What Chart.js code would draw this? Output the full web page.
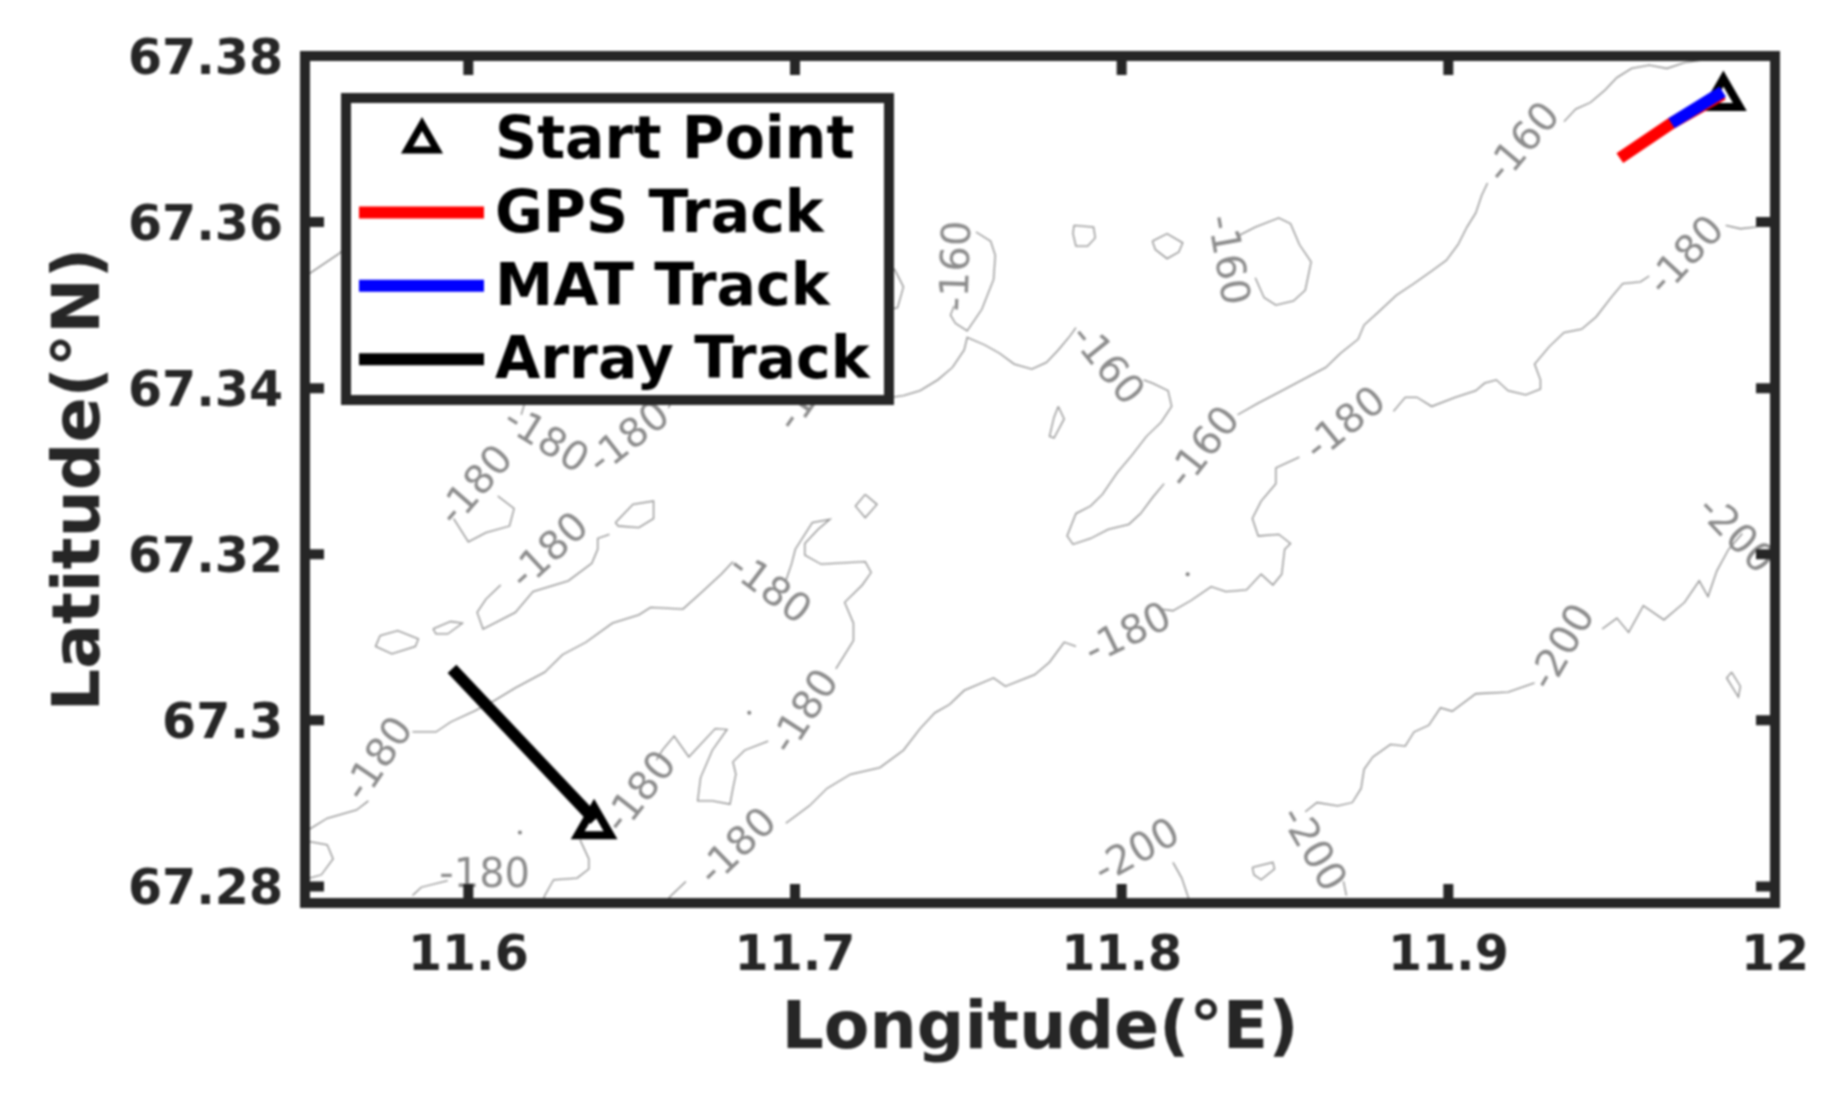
<!DOCTYPE html>
<html>
<head>
<meta charset="utf-8">
<title>Tracks</title>
<script src="https://cdn.jsdelivr.net/npm/chart.js@4"></script>
<style>
    html, body { margin: 0; padding: 0; background: #fff; }
    canvas { display: block; filter: blur(1px); }
</style>
</head>
<body>
<canvas id="myChart" width="1839" height="1102"></canvas>
<script>
// Ticks
const xTicks = [11.6, 11.7, 11.8, 11.9, 12];
const yTicks = [67.28, 67.3, 67.32, 67.34, 67.36, 67.38];

// Tracks, [lon, lat]
const gpsTrack = [[11.9525, 67.3677], [11.9683, 67.3719], [11.9840, 67.3754]];
const matTrack = [[11.9683, 67.3719], [11.9840, 67.3757]];
const arrayTrack = [[11.5950, 67.3062], [11.6387, 67.2880]];
const startPoints = [[11.9842, 67.3750], [11.6385, 67.2873]];

// Contours. Gaps are where the labels sit
const c160TopRight = [[11.9795, 67.3796], [11.9723, 67.3792], [11.9669, 67.3785], [11.9615, 67.3789], [11.9561, 67.3785], [11.9516, 67.3774], [11.9480, 67.3759], [11.9435, 67.3744], [11.9390, 67.3736], [11.9354, 67.3721]];
const c160Main = [[11.9120, 67.3647], [11.9102, 67.3632], [11.9084, 67.3611], [11.9057, 67.3594], [11.9030, 67.3573], [11.8994, 67.3554], [11.8949, 67.3541], [11.8895, 67.3526], [11.8841, 67.3512], [11.8787, 67.3492], [11.8742, 67.3476], [11.8724, 67.3459], [11.8670, 67.3442], [11.8625, 67.3425], [11.8553, 67.3410], [11.8481, 67.3395], [11.8418, 67.3382], [11.8355, 67.3368]];
const c160Tongue = [[11.8130, 67.3285], [11.8094, 67.3268], [11.8058, 67.3249], [11.8022, 67.3236], [11.7959, 67.3230], [11.7905, 67.3219], [11.7851, 67.3212], [11.7833, 67.3222], [11.7860, 67.3249], [11.7905, 67.3258], [11.7941, 67.3272], [11.7986, 67.3298], [11.8031, 67.3319], [11.8076, 67.3342], [11.8121, 67.3359], [11.8153, 67.3378], [11.8142, 67.3397], [11.8094, 67.3406], [11.8067, 67.3410]];
const c160Bend = [[11.7554, 67.3588], [11.7599, 67.3577], [11.7613, 67.3560], [11.7608, 67.3531], [11.7572, 67.3495], [11.7527, 67.3469], [11.7491, 67.3478], [11.7476, 67.3488], [11.7487, 67.3499]];
const c160West = [[11.7860, 67.3473], [11.7842, 67.3463], [11.7806, 67.3446], [11.7770, 67.3431], [11.7725, 67.3423], [11.7671, 67.3429], [11.7626, 67.3442], [11.7581, 67.3452], [11.7527, 67.3461], [11.7518, 67.3446], [11.7482, 67.3425], [11.7437, 67.3410], [11.7383, 67.3397], [11.7332, 67.3391], [11.7260, 67.3387]];
const c160Arc = [[11.7224, 67.3552], [11.7305, 67.3543], [11.7332, 67.3522], [11.7314, 67.3497], [11.7224, 67.3488]];
const c160Corner = [[11.5510, 67.3537], [11.5604, 67.3562], [11.5700, 67.3600]];
const c160Loop = [[11.8355, 67.3583], [11.8409, 67.3594], [11.8481, 67.3605], [11.8517, 67.3598], [11.8544, 67.3573], [11.8580, 67.3552], [11.8562, 67.3518], [11.8526, 67.3505], [11.8472, 67.3500], [11.8436, 67.3509], [11.8409, 67.3533]];
const islandA = [[11.7854, 67.3596], [11.7914, 67.3594], [11.7919, 67.3581], [11.7896, 67.3571], [11.7860, 67.3571], [11.7851, 67.3586], [11.7854, 67.3596]];
const islandB = [[11.8094, 67.3577], [11.8139, 67.3586], [11.8187, 67.3575], [11.8175, 67.3564], [11.8139, 67.3556], [11.8103, 67.3567], [11.8094, 67.3577]];
const islandC = [[11.7806, 67.3378], [11.7824, 67.3363], [11.7793, 67.3340], [11.7779, 67.3342], [11.7793, 67.3365], [11.7806, 67.3378]];

const c180RightEdge = [[11.9984, 67.3600], [11.9939, 67.3594], [11.9894, 67.3592], [11.9849, 67.3596]];
const c180Upper = [[11.9615, 67.3535], [11.9588, 67.3528], [11.9534, 67.3526], [11.9498, 67.3509], [11.9453, 67.3486], [11.9408, 67.3471], [11.9354, 67.3467], [11.9309, 67.3450], [11.9264, 67.3429], [11.9282, 67.3410], [11.9282, 67.3399], [11.9237, 67.3392], [11.9183, 67.3397], [11.9147, 67.3410], [11.9111, 67.3406], [11.9084, 67.3397], [11.9021, 67.3389], [11.8949, 67.3378], [11.8904, 67.3389], [11.8868, 67.3389], [11.8832, 67.3372]];
const c180Mid = [[11.8544, 67.3317], [11.8472, 67.3304], [11.8472, 67.3285], [11.8427, 67.3264], [11.8400, 67.3243], [11.8418, 67.3222], [11.8481, 67.3224], [11.8517, 67.3213], [11.8499, 67.3206], [11.8490, 67.3176], [11.8463, 67.3163], [11.8427, 67.3176], [11.8382, 67.3157], [11.8319, 67.3155], [11.8274, 67.3161], [11.8211, 67.3144], [11.8157, 67.3132], [11.8121, 67.3134]];
const c180Lower = [[11.7860, 67.3089], [11.7824, 67.3094], [11.7779, 67.3070], [11.7734, 67.3055], [11.7644, 67.3041], [11.7608, 67.3051], [11.7518, 67.3036], [11.7473, 67.3019], [11.7428, 67.3009], [11.7383, 67.2990], [11.7332, 67.2964], [11.7260, 67.2943], [11.7170, 67.2935], [11.7098, 67.2918], [11.7044, 67.2897], [11.6972, 67.2876]];
const c180Foot = [[11.6666, 67.2806], [11.6621, 67.2789], [11.6600, 67.2780]];
const c180WestLow = [[11.5514, 67.2869], [11.5568, 67.2882], [11.5658, 67.2892], [11.5694, 67.2903]];
const c180West = [[11.5829, 67.2986], [11.5901, 67.2986], [11.5946, 67.2998], [11.6018, 67.3011], [11.6081, 67.3024], [11.6144, 67.3039], [11.6234, 67.3058], [11.6288, 67.3079], [11.6360, 67.3094], [11.6441, 67.3117], [11.6522, 67.3127], [11.6558, 67.3136], [11.6657, 67.3134], [11.6711, 67.3153], [11.6774, 67.3176], [11.6810, 67.3191]];
const c180Neck = [[11.6972, 67.3168], [11.6990, 67.3189], [11.7001, 67.3206], [11.7053, 67.3238], [11.7107, 67.3242], [11.7071, 67.3230], [11.7030, 67.3213], [11.7030, 67.3199], [11.7080, 67.3188], [11.7215, 67.3191], [11.7233, 67.3178], [11.7206, 67.3163], [11.7152, 67.3142], [11.7179, 67.3117], [11.7179, 67.3096], [11.7125, 67.3062]];
const c180Finger = [[11.6918, 67.2975], [11.6846, 67.2964], [11.6810, 67.2950], [11.6819, 67.2935], [11.6810, 67.2918], [11.6801, 67.2899], [11.6747, 67.2903], [11.6702, 67.2903], [11.6711, 67.2931], [11.6747, 67.2964], [11.6792, 67.2989], [11.6756, 67.2990], [11.6675, 67.2956], [11.6630, 67.2981], [11.6594, 67.2964], [11.6576, 67.2952]];
const c180South = [[11.6342, 67.2856], [11.6369, 67.2833], [11.6369, 67.2821], [11.6333, 67.2810], [11.6261, 67.2808], [11.6234, 67.2789], [11.6225, 67.2780]];
const c180CornerPatch = [[11.5514, 67.2854], [11.5568, 67.2850], [11.5586, 67.2833], [11.5550, 67.2814], [11.5514, 67.2810]];
const c180Bottom = [[11.5829, 67.2789], [11.5856, 67.2799], [11.5937, 67.2807]];
const pondA = [[11.5730, 67.3102], [11.5784, 67.3108], [11.5847, 67.3098], [11.5838, 67.3089], [11.5766, 67.3080], [11.5716, 67.3089], [11.5730, 67.3102]];
const pondB = [[11.5892, 67.3110], [11.5946, 67.3119], [11.5982, 67.3117], [11.5937, 67.3104], [11.5901, 67.3104], [11.5892, 67.3110]];
const c180Spit = [[11.6099, 67.3163], [11.6054, 67.3146], [11.6027, 67.3130], [11.6045, 67.3110], [11.6144, 67.3130], [11.6198, 67.3155], [11.6306, 67.3168], [11.6378, 67.3189], [11.6396, 67.3206], [11.6396, 67.3219], [11.6432, 67.3224]];
const pondC = [[11.6450, 67.3238], [11.6504, 67.3260], [11.6567, 67.3264], [11.6567, 67.3243], [11.6522, 67.3232], [11.6459, 67.3234], [11.6450, 67.3238]];
const pondD = [[11.7215, 67.3272], [11.7251, 67.3260], [11.7215, 67.3244], [11.7185, 67.3258], [11.7215, 67.3272]];
const c180Hook = [[11.5955, 67.3243], [11.6000, 67.3215], [11.6054, 67.3226], [11.6126, 67.3234], [11.6140, 67.3255], [11.6090, 67.3270]];
const c180StubA = [[11.6171, 67.3380], [11.6162, 67.3368]];
const c180StubB = [[11.6612, 67.3376], [11.6640, 67.3395]];

const c200Main = [[11.8562, 67.2890], [11.8598, 67.2901], [11.8661, 67.2897], [11.8706, 67.2901], [11.8733, 67.2918], [11.8742, 67.2941], [11.8769, 67.2956], [11.8823, 67.2971], [11.8868, 67.2969], [11.8895, 67.2986], [11.8940, 67.2994], [11.8976, 67.3015], [11.9012, 67.3011], [11.9084, 67.3032], [11.9183, 67.3034], [11.9264, 67.3045]];
const c200East = [[11.9471, 67.3110], [11.9516, 67.3123], [11.9552, 67.3106], [11.9597, 67.3138], [11.9660, 67.3121], [11.9723, 67.3142], [11.9768, 67.3168], [11.9795, 67.3149], [11.9822, 67.3180], [11.9858, 67.3206], [11.9900, 67.3225]];
const c200Sliver = [[11.9867, 67.3058], [11.9894, 67.3041], [11.9888, 67.3028], [11.9852, 67.3051], [11.9867, 67.3058]];
const c200Pond = [[11.8400, 67.2823], [11.8463, 67.2829], [11.8468, 67.2821], [11.8427, 67.2808], [11.8405, 67.2814], [11.8400, 67.2823]];
const c200BottomA = [[11.8157, 67.2829], [11.8184, 67.2810], [11.8202, 67.2789], [11.8210, 67.2780]];
const c200BottomB = [[11.8679, 67.2806], [11.8688, 67.2789]];
const soundings = [[11.8202, 67.3176], [11.6860, 67.3009], [11.6158, 67.2865]];

const contourLines = [c160TopRight, c160Main, c160Tongue, c160Bend, c160West, c160Arc, c160Corner, c160Loop, islandA, islandB, islandC,
    c180RightEdge, c180Upper, c180Mid, c180Lower, c180Foot, c180WestLow, c180West, c180Neck, c180Finger, c180South, c180CornerPatch, c180Bottom,
    pondA, pondB, c180Spit, pondC, pondD, c180Hook, c180StubA, c180StubB,
    c200Main, c200East, c200Sliver, c200Pond, c200BottomA, c200BottomB];

// Contour labels
const labelTexts = ['-160', '-180', '-160', '-180', '-160', '-160', '-160', '-200', '-200', '-200', '-200', '-180', '-180', '-180', '-180', '-180', '-180', '-180', '-180', '-180', '-180', '-180', '-180'];
const labelLons = [11.9233, 11.9732, 11.8256, 11.8688, 11.7500, 11.7950, 11.8319, 11.9876, 11.9354, 11.8049, 11.8580, 11.8022, 11.7035, 11.6828, 11.6531, 11.6918, 11.5730, 11.6050, 11.6252, 11.6027, 11.6234, 11.6495, 11.7053];
const labelLats = [67.3694, 67.3558, 67.3327, 67.3355, 67.3547, 67.3427, 67.3554, 67.3222, 67.3087, 67.2840, 67.2844, 67.3102, 67.3009, 67.2846, 67.2912, 67.3157, 67.2952, 67.2812, 67.3202, 67.3281, 67.3336, 67.3338, 67.3397];
const labelAngles = [-50, -47, -52, -39, -88, 51, 80, 46, -60, -29, 60, -26, -57, -44, -52, 37, -56, 0, -43, -49, 32, -38, -55];

const textColor = '#262626';
const contourColor = '#8c8c8c';

function toPoints(list) {
    return list.map((p) => ({ x: p[0], y: p[1] }));
}

function trackDataset(label, list, color, order) {
    return {
        label: label,
        data: toPoints(list),
        showLine: true,
        borderColor: color,
        borderWidth: 12,
        borderCapStyle: 'butt',
        pointRadius: 0,
        order: order
    };
}

let datasets = [
    {
        label: 'Start Point',
        data: toPoints(startPoints),
        showLine: false,
        pointStyle: 'triangle',
        pointRadius: 19,
        pointBorderWidth: 8,
        pointBorderColor: '#000',
        pointBackgroundColor: 'transparent',
        order: 4
    },
    trackDataset('GPS Track', gpsTrack, '#ff0000', 2),
    trackDataset('MAT Track', matTrack, '#0000ff', 1),
    trackDataset('Array Track', arrayTrack, '#000000', 3)
];

contourLines.forEach((line) => {
    datasets.push({
        data: toPoints(line),
        showLine: true,
        borderColor: contourColor,
        borderWidth: 1.3,
        pointRadius: 0,
        order: 10
    });
});
datasets.push({
    data: toPoints(soundings),
    showLine: false,
    pointRadius: 2,
    pointBorderWidth: 0,
    pointBackgroundColor: '#808080',
    order: 10
});

// Rotated labels on the contours
const contourLabelPlugin = {
    id: 'contourLabels',
    beforeDatasetsDraw(chart) {
        const { ctx, chartArea, scales } = chart;
        ctx.save();
        ctx.beginPath();
        ctx.rect(chartArea.left, chartArea.top, chartArea.width, chartArea.height);
        ctx.clip();
        ctx.font = '40px "DejaVu Sans"';
        ctx.fillStyle = '#8c8c8c';
        ctx.textAlign = 'center';
        ctx.textBaseline = 'middle';
        labelTexts.forEach((text, i) => {
            ctx.save();
            ctx.translate(scales.x.getPixelForValue(labelLons[i]), scales.y.getPixelForValue(labelLats[i]));
            ctx.rotate(labelAngles[i] * Math.PI / 180);
            ctx.fillText(text, 0, 0);
            ctx.restore();
        });
        ctx.restore();
    }
};

// Box around the plot with the ticks pointing inward, then the legend on top
const framePlugin = {
    id: 'frame',
    afterLayout(chart) {
        // the tick labels sit a little below their ticks in the original
        chart.scales.y.getLabelItems().forEach((item) => { item.textOffset += 5; });
        chart.scales.x.getLabelItems().forEach((item) => { item.textOffset += 1; });
    },
    afterDatasetsDraw(chart) {
        const { ctx, chartArea, scales } = chart;
        const { left, right, top, bottom } = chartArea;
        const tickLen = 19;
        ctx.save();
        ctx.strokeStyle = textColor;
        ctx.lineWidth = 10;
        ctx.strokeRect(left, top, right - left, bottom - top);
        ctx.beginPath();
        xTicks.slice(0, -1).forEach((value) => {
            const px = scales.x.getPixelForValue(value);
            ctx.moveTo(px, top);
            ctx.lineTo(px, top + tickLen);
            ctx.moveTo(px, bottom);
            ctx.lineTo(px, bottom - tickLen);
        });
        yTicks.slice(0, -1).forEach((value) => {
            const py = scales.y.getPixelForValue(value);
            ctx.moveTo(left, py);
            ctx.lineTo(left + tickLen, py);
            ctx.moveTo(right, py);
            ctx.lineTo(right - tickLen, py);
        });
        ctx.stroke();
        ctx.restore();
        drawLegend(chart);
    }
};

function drawLegend(chart) {
    const ctx = chart.ctx;
    const rowHeight = 73.4;
    const firstRow = 139;
    ctx.save();
    ctx.fillStyle = '#fff';
    ctx.fillRect(346, 98, 543, 302);
    ctx.strokeStyle = textColor;
    ctx.lineWidth = 10;
    ctx.strokeRect(346, 98, 543, 302);
    ctx.font = 'bold 58.5px "DejaVu Sans"';
    ctx.textAlign = 'left';
    ctx.textBaseline = 'middle';
    chart.data.datasets.slice(0, 4).forEach((ds, i) => {
        const y = firstRow + i * rowHeight;
        if (ds.showLine) {
            ctx.strokeStyle = ds.borderColor;
            ctx.lineWidth = 12;
            ctx.beginPath();
            ctx.moveTo(359, y);
            ctx.lineTo(484, y);
            ctx.stroke();
        } else {
            ctx.strokeStyle = '#000';
            ctx.lineWidth = 7;
            ctx.beginPath();
            ctx.moveTo(422, y - 15);
            ctx.lineTo(437, y + 11);
            ctx.lineTo(407, y + 11);
            ctx.closePath();
            ctx.stroke();
        }
        ctx.fillStyle = '#000';
        ctx.fillText(ds.label, 495, y + 4);
    });
    ctx.restore();
}

const ctx = document.getElementById('myChart');
const myChart = new Chart(ctx, {
    type: 'scatter',
    data: { datasets: datasets },
    plugins: [contourLabelPlugin, framePlugin],
    options: {
        responsive: false,
        animation: false,
        devicePixelRatio: 1,
        layout: {
            autoPadding: false,
            padding: { top: 56, right: 64, bottom: 0, left: 0 }
        },
        plugins: {
            legend: { display: false },
            tooltip: { enabled: false }
        },
        scales: {
            x: {
                type: 'linear',
                min: 11.55,
                max: 12,
                afterFit: (scale) => { scale.height = 199; },
                afterBuildTicks: (scale) => { scale.ticks = xTicks.map((v) => ({ value: v })); },
                grid: { display: false, drawTicks: false },
                border: { display: false },
                ticks: {
                    autoSkip: false,
                    maxRotation: 0,
                    padding: 24,
                    color: textColor,
                    font: { family: 'DejaVu Sans', weight: 'bold', size: 49 },
                    callback: (value) => String(value)
                },
                title: {
                    display: true,
                    text: 'Longitude(°E)',
                    color: textColor,
                    font: { family: 'DejaVu Sans', weight: 'bold', size: 66.5 },
                    padding: { top: 0, bottom: 31 }
                }
            },
            y: {
                type: 'linear',
                min: 67.278,
                max: 67.38,
                afterFit: (scale) => { scale.width = 305; },
                afterBuildTicks: (scale) => { scale.ticks = yTicks.map((v) => ({ value: v })); },
                grid: { display: false, drawTicks: false },
                border: { display: false },
                ticks: {
                    autoSkip: false,
                    padding: 22,
                    color: textColor,
                    font: { family: 'DejaVu Sans', weight: 'bold', size: 49 },
                    callback: (value) => String(value)
                },
                title: {
                    display: true,
                    text: 'Latitude(°N)',
                    color: textColor,
                    font: { family: 'DejaVu Sans', weight: 'bold', size: 66.5 },
                    padding: { top: 42, bottom: 0 }
                }
            }
        }
    }
});
</script>
</body>
</html>
